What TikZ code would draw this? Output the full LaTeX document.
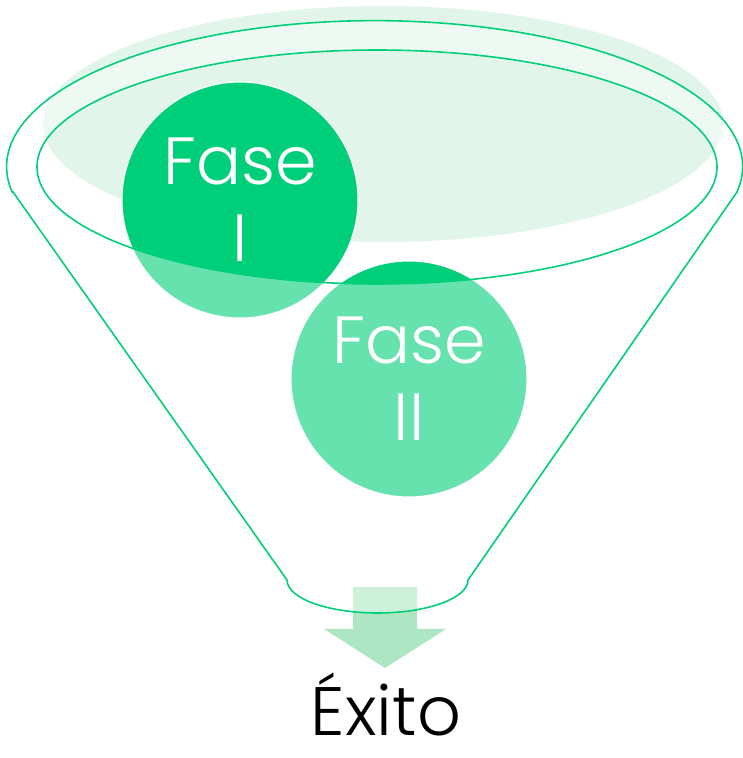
\documentclass[tikz,border=0pt]{standalone}
\usepackage{fontspec}
\newfontfamily\gothic{Poppins Light}

\definecolor{funnelgreen}{HTML}{00CF7A}
\definecolor{rimfill}{HTML}{E2F5EA}
\definecolor{arrowfill}{HTML}{ADE6C3}

\tikzset{
  fasecircle/.style = {circle, minimum size = 236*0.02cm, inner sep = 0pt,
                       draw = white, line width = .6pt, align = center,
                       text = white, font = \gothic\fontsize{38}{44}\selectfont},
  funnelline/.style = {draw = funnelgreen, line width = .9pt}
}

\begin{document}
\begin{tikzpicture}[x = 0.02cm, y = 0.02cm]
\useasboundingbox (0,0) rectangle (743,758);
% opening of the funnel
\fill[rimfill] (383,634) ellipse [x radius = 340, y radius = 118];
% arrow out of the funnel
\fill[arrowfill] (353,171) -- (417,171) -- (417,129) -- (446,129) -- (385,90)
  -- (324,129) -- (353,129) -- cycle;
% phases
\node[fasecircle, fill = funnelgreen] (f1) at (240,558) {Fase\\I};
\node[fasecircle, fill = funnelgreen] (f2) at (409,379) {Fase\\II};
% body of the funnel, lighter outside the opening
\fill[white, fill opacity = .4, even odd rule]
  (13,566) -- (287,178) arc [start angle = 180, end angle = 360, x radius = 90.5, y radius = 33]
  -- (737,566) arc [start angle = -10, end angle = 190, x radius = 368, y radius = 146] -- cycle
  (377,591) ellipse [x radius = 340, y radius = 117];
\draw[funnelline]
  (13,566) -- (287,178) arc [start angle = 180, end angle = 360, x radius = 90.5, y radius = 33]
  -- (737,566) arc [start angle = -10, end angle = 190, x radius = 368, y radius = 146] -- cycle;
\draw[funnelline] (377,591) ellipse [x radius = 340, y radius = 117];
% result
\node (exito) [anchor = base, inner sep = 0pt, font = \gothic\fontsize{39}{46}\selectfont] at (386,23) {Éxito};
\end{tikzpicture}
\end{document}
